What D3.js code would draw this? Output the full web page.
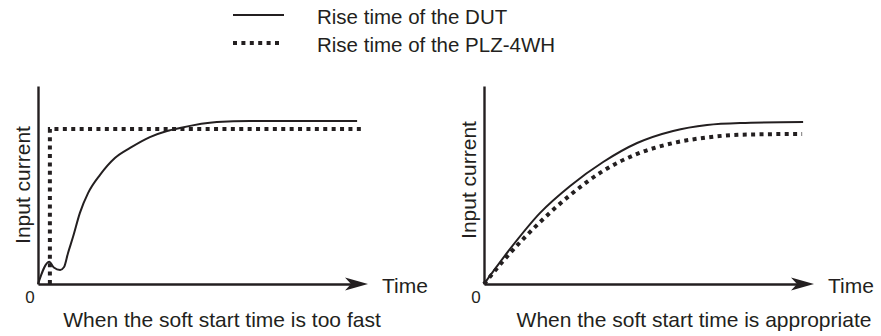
<!DOCTYPE html>
<html>
<head>
<meta charset="utf-8">
<script src="https://cdn.jsdelivr.net/npm/d3@7"></script>
<style>
  html, body { margin: 0; padding: 0; background: #fff; }
  svg { display: block; }
  text { font-family: "Liberation Sans", Arial, Helvetica, sans-serif; fill: #231f20; }
</style>
</head>
<body>
<svg id="chart" width="881" height="336"></svg>
<script>
// Series names (legend) and panel captions
const seriesNames = ["Rise time of the DUT", "Rise time of the PLZ-4WH"];
const captions = ["When the soft start time is too fast", "When the soft start time is appropriate"];
const axisLabelY = "Input current";
const axisLabelX = "Time";
const originLabel = "0";

// Panel 1: soft start too fast (time and current in arbitrary units, 0-100)
const dutFastT = [0, 3.4, 4.8, 6.7, 7.9, 9.1, 10.6, 12.7, 15.2, 18.8, 23.3, 27.9, 33.9, 39.1, 43.0, 54.2, 64.2, 96.7];
const dutFastI = [0, 11.3, 8.3, 7.1, 8.6, 15.7, 23.7, 35.9, 46.0, 55.1, 63.6, 68.7, 74.2, 77.3, 78.8, 81.8, 82.3, 82.3];
const plzFastT = [3.6, 3.6, 98.2];
const plzFastI = [0, 78.3, 78.3];

// Panel 2: soft start appropriate
const dutOkT = [0, 7.9, 17.0, 26.1, 36.1, 46.4, 57.3, 67.6, 77.6, 96.7];
const dutOkI = [0, 17.7, 35.9, 49.5, 61.6, 71.2, 77.3, 80.3, 81.3, 81.8];
const plzOkT = [0, 7.9, 17.0, 26.1, 36.1, 46.4, 57.3, 67.6, 77.6, 96.4];
const plzOkI = [0, 15.6, 31.3, 44.9, 57.1, 65.7, 71.2, 74.0, 75.4, 75.8];

const ink = "#231f20";
const FONT = 21;
const svg = d3.select("#chart");

const zip = (t, v) => t.map((d, i) => ({ t: d, v: v[i] }));

const panelDefs = [
  { x0: 38, caption: captions[0], captionX: 222, labelX: 30, labelY: 185,
    dut: zip(dutFastT, dutFastI), plz: zip(plzFastT, plzFastI), plzCurve: d3.curveLinear },
  { x0: 484, caption: captions[1], captionX: 694, labelX: 476, labelY: 180,
    dut: zip(dutOkT, dutOkI), plz: zip(plzOkT, plzOkI), plzCurve: d3.curveMonotoneX }
];

const yBase = 284, yTop = 86, plotW = 330;

panelDefs.forEach(p => {
  const x = d3.scaleLinear().domain([0, 100]).range([p.x0, p.x0 + plotW]);
  const y = d3.scaleLinear().domain([0, 100]).range([yBase, yTop]);
  const g = svg.append("g");

  // axes: plain lines without ticks
  const xAxis = g.append("g")
    .attr("transform", `translate(0,${yBase})`)
    .call(d3.axisBottom(x.copy().range([p.x0, p.x0 + plotW - 16])).tickValues([]).tickSizeOuter(0));
  xAxis.select(".domain").attr("stroke", ink).attr("stroke-width", 2.4);

  const yAxis = g.append("g")
    .attr("transform", `translate(${p.x0},0)`)
    .call(d3.axisLeft(y).tickValues([]).tickSizeOuter(0));
  yAxis.select(".domain").attr("stroke", ink).attr("stroke-width", 2.4);

  // arrowhead at the end of the time axis
  g.append("path")
    .attr("transform", `translate(${x(100)},${yBase})`)
    .attr("d", "M0,0 L-23,-6.5 L-17,0 L-23,6.5 Z")
    .attr("fill", ink);

  // PLZ-4WH rise (dotted)
  g.append("path")
    .datum(p.plz)
    .attr("fill", "none")
    .attr("stroke", ink)
    .attr("stroke-width", 4)
    .attr("stroke-dasharray", "4,4.4")
    .attr("d", d3.line().x(d => x(d.t)).y(d => y(d.v)).curve(p.plzCurve));

  // DUT rise (solid)
  g.append("path")
    .datum(p.dut)
    .attr("fill", "none")
    .attr("stroke", ink)
    .attr("stroke-width", 2)
    .attr("stroke-linejoin", "round")
    .attr("d", d3.line().x(d => x(d.t)).y(d => y(d.v)).curve(d3.curveMonotoneX));

  // labels
  g.append("text")
    .attr("x", p.x0 - 8).attr("y", 303)
    .attr("font-size", 17)
    .attr("text-anchor", "middle")
    .text(originLabel);

  g.append("text")
    .attr("x", x(100) + 14).attr("y", 293)
    .attr("font-size", FONT)
    .text(axisLabelX);

  g.append("text")
    .attr("transform", `translate(${p.labelX},${p.labelY}) rotate(-90)`)
    .attr("font-size", FONT)
    .attr("text-anchor", "middle")
    .text(axisLabelY);

  g.append("text")
    .attr("x", p.captionX).attr("y", 327)
    .attr("font-size", FONT)
    .attr("text-anchor", "middle")
    .text(p.caption);
});

// legend
const legend = svg.append("g");
const legendRows = [
  { name: seriesNames[0], y: 15, dash: null, width: 2 },
  { name: seriesNames[1], y: 43, dash: "4,4.4", width: 4 }
];
legendRows.forEach(r => {
  legend.append("line")
    .attr("x1", 233).attr("x2", r.dash ? 283 : 284)
    .attr("y1", r.y).attr("y2", r.y)
    .attr("stroke", ink)
    .attr("stroke-width", r.width)
    .attr("stroke-dasharray", r.dash);
  legend.append("text")
    .attr("x", 317).attr("y", r.y + 9)
    .attr("font-size", 20.5)
    .text(r.name);
});
</script>
</body>
</html>
